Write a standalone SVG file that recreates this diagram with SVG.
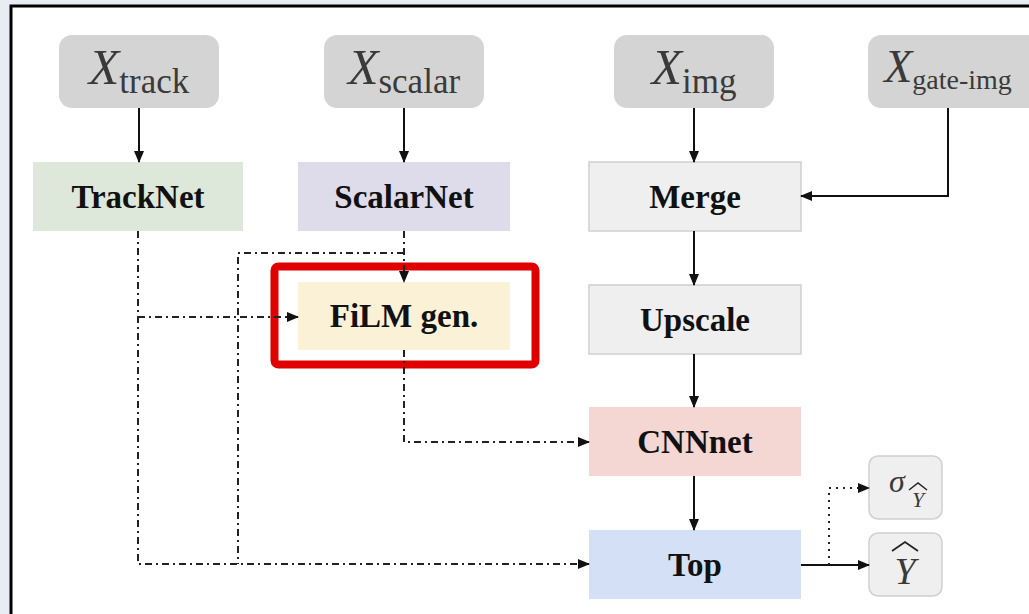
<svg xmlns="http://www.w3.org/2000/svg" width="1029" height="614" viewBox="0 0 1029 614">
<defs>
<style>
.inp{fill:#d4d4d4}
.lbl{font-family:"Liberation Serif",serif;font-weight:bold;font-size:33px;fill:#111;text-anchor:middle}
.mx{font-family:"Liberation Serif",serif;fill:#3a3a3a;text-anchor:middle}
.sub{font-family:"Liberation Serif",serif}
.solid{stroke:#111;stroke-width:2;fill:none}
.dd{stroke:#222;stroke-width:2;fill:none;stroke-dasharray:7 4 2 4}
.dot{stroke:#222;stroke-width:2;fill:none;stroke-dasharray:2 5}
.box{stroke:#d0d0d0;stroke-width:1.5}
</style>
<marker id="ah" markerWidth="12" markerHeight="10" refX="11" refY="5" orient="auto" markerUnits="userSpaceOnUse">
<path d="M0,0 L12,5 L0,10 Z" fill="#111"/>
</marker>
</defs>
<rect x="0" y="0" width="1029" height="614" fill="#e8edf3"/>
<rect x="11" y="6" width="1030" height="620" fill="#ffffff" stroke="#000" stroke-width="3"/>

<g id="x-track"><rect class="inp" x="59" y="35" width="160" height="73" rx="13"/>
<text class="mx" x="139" y="84"><tspan font-style="italic" font-size="50">X</tspan><tspan class="sub" font-size="35" dy="9">track</tspan></text></g>
<g id="x-scalar"><rect class="inp" x="324" y="35" width="160" height="73" rx="13"/>
<text class="mx" x="404" y="84"><tspan font-style="italic" font-size="50">X</tspan><tspan class="sub" font-size="35" dy="9">scalar</tspan></text></g>
<g id="x-img"><rect class="inp" x="614" y="35" width="160" height="73" rx="13"/>
<text class="mx" x="694" y="84"><tspan font-style="italic" font-size="50">X</tspan><tspan class="sub" font-size="35" dy="9">img</tspan></text></g>
<g id="x-gate-img"><rect class="inp" x="868" y="35" width="175" height="73" rx="13"/>
<text class="mx" x="948" y="82"><tspan font-style="italic" font-size="46">X</tspan><tspan class="sub" font-size="28" dy="7">gate-img</tspan></text></g>

<g id="tracknet"><rect x="33" y="162" width="210" height="69" fill="#dde8da"/><text class="lbl" x="138" y="208">TrackNet</text></g>
<g id="scalarnet"><rect x="298" y="162" width="212" height="69" fill="#dedbeb"/><text class="lbl" x="404" y="208">ScalarNet</text></g>
<g id="merge"><rect class="box" x="589" y="162" width="212" height="69" fill="#efefef"/><text class="lbl" x="695" y="208">Merge</text></g>
<g id="film"><rect x="298" y="282" width="212" height="68" fill="#faf1d6"/><text class="lbl" x="404" y="327">FiLM gen.</text>
<rect x="274.5" y="266.5" width="261" height="98" rx="4" fill="none" stroke="#e00000" stroke-width="8"/></g>
<g id="upscale"><rect class="box" x="589" y="285" width="212" height="69" fill="#efefef"/><text class="lbl" x="695" y="331">Upscale</text></g>
<g id="cnnnet"><rect x="589" y="407" width="212" height="69" fill="#f4d6d3"/><text class="lbl" x="695" y="453">CNNnet</text></g>
<g id="top"><rect x="589" y="530" width="212" height="69" fill="#d3e0f5"/><text class="lbl" x="695" y="576">Top</text></g>
<g id="sigma"><rect class="box" x="869" y="456" width="73" height="63" rx="9" fill="#efefef"/>
<text class="mx" x="897" y="492" font-style="italic" font-size="32" fill="#222">σ</text>
<text class="mx" x="918" y="507" font-style="italic" font-size="22" fill="#222">Y</text>
<path d="M909,490 L918,483 L927,490" fill="none" stroke="#222" stroke-width="1.5"/></g>
<g id="yhat"><rect class="box" x="869" y="533" width="73" height="63" rx="9" fill="#efefef"/>
<text class="mx" x="905" y="584" font-style="italic" font-size="38" fill="#222">Y</text>
<path d="M892,551 L905,542 L918,551" fill="none" stroke="#222" stroke-width="1.8"/></g>

<g id="connectors">
<path class="solid" d="M139,108 V162" marker-end="url(#ah)"/>
<path class="solid" d="M404,108 V162" marker-end="url(#ah)"/>
<path class="solid" d="M694,108 V162" marker-end="url(#ah)"/>
<path class="solid" d="M948,108 V196 H801" marker-end="url(#ah)"/>
<path class="solid" d="M694,231 V285" marker-end="url(#ah)"/>
<path class="solid" d="M694,354 V407" marker-end="url(#ah)"/>
<path class="solid" d="M694,476 V530" marker-end="url(#ah)"/>
<path class="solid" d="M801,565 H869" marker-end="url(#ah)"/>
<path class="dot" d="M829,565 V488 H869" marker-end="url(#ah)"/>
<path class="dd" d="M138,231 V564 H589" marker-end="url(#ah)"/>
<path class="dd" d="M138,317 H298" marker-end="url(#ah)"/>
<path class="dd" d="M404,231 V282" marker-end="url(#ah)"/>
<path class="dd" d="M404,253 H238 V564"/>
<path class="dd" d="M404,350 V442 H589" marker-end="url(#ah)"/>
</g>
</svg>
